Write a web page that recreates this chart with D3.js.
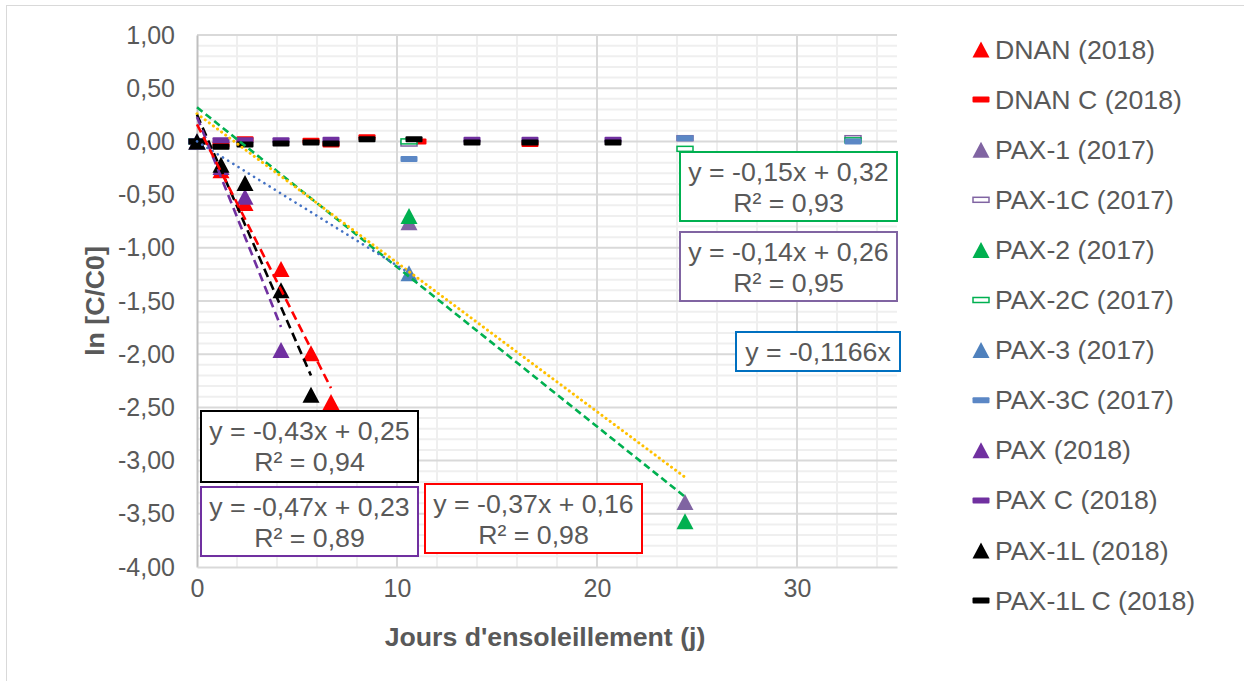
<!DOCTYPE html>
<html>
<head>
<meta charset="utf-8">
<script src="https://cdn.jsdelivr.net/npm/d3@7"></script>
<style>
  html, body { margin: 0; padding: 0; background: #ffffff; }
  svg { display: block; font-family: "Liberation Sans", Arial, sans-serif; }
</style>
</head>
<body>
<svg id="chart" width="1244" height="681"></svg>
<script>
// ---- Data: ln(C/C0) against sunshine days ----
const dnanX   = [0, 1.2, 2.4, 4.2, 5.7, 6.7];
const dnanY   = [0, -0.27, -0.58, -1.20, -1.99, -2.45];
const dnanCX  = [0, 1.2, 2.4, 5.7, 6.7, 8.5, 11.05, 16.65];
const dnanCY  = [0, -0.03, 0.02, 0.005, -0.03, 0.04, 0.0, -0.025];

const pax1X   = [0, 10.6, 24.4];
const pax1Y   = [0, -0.76, -3.39];
const pax1CX  = [0, 10.6, 24.4, 32.8];
const pax1CY  = [0, -0.02, 0.03, 0.03];

const pax2X   = [0, 10.6, 24.4];
const pax2Y   = [0, -0.70, -3.57];
const pax2CX  = [0, 10.6, 24.4, 32.8];
const pax2CY  = [0, 0.0, -0.07, 0.01];

const pax3X   = [0, 10.6];
const pax3Y   = [0, -1.24];
const pax3CX  = [0, 10.6, 24.4, 32.8];
const pax3CY  = [0, -0.165, 0.03, 0.0];

const paxX    = [0, 1.2, 2.4, 4.2];
const paxY    = [0, -0.24, -0.52, -1.96];
const paxCX   = [0, 1.2, 2.4, 4.2, 6.7, 13.75, 16.65, 20.8];
const paxCY   = [0, 0.01, 0.01, 0.01, 0.015, 0.015, 0.015, 0.015];

const pax1lX  = [0, 1.2, 2.4, 4.2, 5.7];
const pax1lY  = [0, -0.22, -0.39, -1.40, -2.38];
const pax1lCX = [0, 1.2, 2.4, 4.2, 5.7, 6.7, 8.5, 10.85, 13.75, 16.65, 20.8];
const pax1lCY = [0, -0.05, -0.03, -0.02, -0.01, -0.02, 0.02, 0.02, -0.01, -0.01, -0.01];

// Linear trendlines: slope, intercept, R², x range
const trendNames     = ["PAX-2", "PAX-1", "PAX-3", "PAX-1L", "PAX", "DNAN"];
const trendSlopes    = [-0.15, -0.14, -0.1166, -0.43, -0.47, -0.37];
const trendIntercept = [0.32, 0.26, 0, 0.25, 0.23, 0.16];
const trendR2        = [0.93, 0.95, null, 0.94, 0.89, 0.98];
const trendXEnd      = [24.5, 24.5, 10.6, 5.7, 4.2, 6.7];

// Axis ticks
const xTicks = [0, 10, 20, 30];
const yTicks = [1, 0.5, 0, -0.5, -1, -1.5, -2, -2.5, -3, -3.5, -4];

// Legend labels
const legendLabels = ["DNAN (2018)", "DNAN C (2018)", "PAX-1 (2017)", "PAX-1C (2017)",
  "PAX-2 (2017)", "PAX-2C (2017)", "PAX-3 (2017)", "PAX-3C (2017)",
  "PAX (2018)", "PAX C (2018)", "PAX-1L (2018)", "PAX-1L C (2018)"];

// ---- Series definitions (draw order) ----
const series = [
  { name: legendLabels[0],  x: dnanX,  y: dnanY,  shape: "tri",  color: "#FF0000" },
  { name: legendLabels[1],  x: dnanCX, y: dnanCY, shape: "dash", color: "#FF0000" },
  { name: legendLabels[2],  x: pax1X,  y: pax1Y,  shape: "tri",  color: "#8064A2" },
  { name: legendLabels[3],  x: pax1CX, y: pax1CY, shape: "hollow", color: "#8064A2" },
  { name: legendLabels[4],  x: pax2X,  y: pax2Y,  shape: "tri",  color: "#00B050" },
  { name: legendLabels[5],  x: pax2CX, y: pax2CY, shape: "hollow", color: "#00B050" },
  { name: legendLabels[6],  x: pax3X,  y: pax3Y,  shape: "tri",  color: "#4F81BD" },
  { name: legendLabels[7],  x: pax3CX, y: pax3CY, shape: "dash", color: "#5B87C5" },
  { name: legendLabels[8],  x: paxX,   y: paxY,   shape: "tri",  color: "#7030A0" },
  { name: legendLabels[9],  x: paxCX,  y: paxCY,  shape: "dash", color: "#7030A0" },
  { name: legendLabels[10], x: pax1lX, y: pax1lY, shape: "tri",  color: "#000000" },
  { name: legendLabels[11], x: pax1lCX,y: pax1lCY,shape: "dash", color: "#000000" }
];

const trendStyles = [
  { color: "#00B050", dash: "7,4",   width: 2.6, cap: "butt" },
  { color: "#FFC000", dash: "0.1,5", width: 3,   cap: "round" },
  { color: "#4472C4", dash: "0.1,6", width: 2.6, cap: "round" },
  { color: "#000000", dash: "9,5",   width: 2.6, cap: "butt" },
  { color: "#7030A0", dash: "9,5",   width: 2.6, cap: "butt" },
  { color: "#FF0000", dash: "9,5",   width: 2.6, cap: "butt" }
];

const labelBoxes = [
  { x: 680, y: 152, w: 217, h: 69, stroke: "#00B050" },
  { x: 680, y: 232, w: 217, h: 69, stroke: "#8064A2" },
  { x: 736, y: 332, w: 164, h: 39, stroke: "#0070C0" },
  { x: 201, y: 411, w: 217, h: 71, stroke: "#000000" },
  { x: 201, y: 487, w: 217, h: 69, stroke: "#7030A0" },
  { x: 425, y: 484, w: 217, h: 69, stroke: "#FF0000" }
];

// ---- Layout ----
const svg = d3.select("#chart");
const textColor = "#595959";
const labelSize = 26.7;
const plot = { left: 197, right: 897, top: 35, bottom: 567 };

const x = d3.scaleLinear().domain([0, 35]).range([plot.left, plot.right]);
const y = d3.scaleLinear().domain([-4, 1]).range([plot.bottom, plot.top]);

// French-style number formatting with an ASCII hyphen for negatives
const fr = d3.formatLocale({ decimal: ",", thousands: " ", grouping: [3], currency: ["", " €"], minus: "-" });

// outer chart frame
svg.append("rect")
  .attr("x", 6.5).attr("y", 5.5).attr("width", 1260).attr("height", 700)
  .attr("fill", "#ffffff").attr("stroke", "#d9d9d9").attr("stroke-width", 1);

// ---- Gridlines ----
const grid = svg.append("g");
const minorX = d3.range(0, 35.001, 2).filter(v => v % 10 !== 0);
const minorY = d3.range(-40, 11).map(v => v / 10).filter(v => Math.abs(v * 2 - Math.round(v * 2)) > 1e-6);
grid.selectAll(".mx").data(minorX).join("line")
  .attr("x1", d => x(d)).attr("x2", d => x(d))
  .attr("y1", plot.top).attr("y2", plot.bottom)
  .attr("stroke", "#efefef").attr("stroke-width", 2);
grid.selectAll(".my").data(minorY).join("line")
  .attr("x1", plot.left).attr("x2", plot.right)
  .attr("y1", d => y(d)).attr("y2", d => y(d))
  .attr("stroke", "#efefef").attr("stroke-width", 2);
grid.selectAll(".Mx").data([10, 20, 30]).join("line")
  .attr("x1", d => x(d)).attr("x2", d => x(d))
  .attr("y1", plot.top).attr("y2", plot.bottom)
  .attr("stroke", "#d9d9d9").attr("stroke-width", 2);
grid.selectAll(".My").data(yTicks.filter(v => v !== -4)).join("line")
  .attr("x1", plot.left).attr("x2", plot.right)
  .attr("y1", d => y(d)).attr("y2", d => y(d))
  .attr("stroke", "#d9d9d9").attr("stroke-width", 2);

// ---- Axes ----
const yAxis = d3.axisLeft(y).tickValues(yTicks).tickSize(0).tickPadding(22).tickFormat(fr.format(".2f"));
const gy = svg.append("g").attr("transform", `translate(${plot.left},0)`).call(yAxis);
gy.select(".domain").attr("stroke", "#bfbfbf").attr("stroke-width", 2);
gy.selectAll("text").attr("fill", textColor).attr("font-size", 25)
  .attr("font-family", "Liberation Sans, Arial, sans-serif");

const xAxis = d3.axisBottom(x).tickValues(xTicks).tickSize(0).tickPadding(12).tickFormat(fr.format("d"));
const gx = svg.append("g").attr("transform", `translate(0,${plot.bottom})`).call(xAxis);
gx.select(".domain").attr("stroke", "#d9d9d9").attr("stroke-width", 2);
gx.selectAll("text").attr("fill", textColor).attr("font-size", 25)
  .attr("font-family", "Liberation Sans, Arial, sans-serif");

svg.append("text")
  .attr("x", 545).attr("y", 646).attr("text-anchor", "middle")
  .attr("font-size", labelSize).attr("font-weight", "bold").attr("fill", textColor)
  .text("Jours d'ensoleillement (j)");
svg.append("text")
  .attr("transform", "translate(104,301) rotate(-90)").attr("text-anchor", "middle")
  .attr("font-size", labelSize).attr("font-weight", "bold").attr("fill", textColor)
  .text("ln [C/C0]");

// ---- Markers ----
const triPath = (w, h) => `M0,${-h / 2}L${w / 2},${h / 2}L${-w / 2},${h / 2}Z`;
function drawMarker(g, shape, color) {
  if (shape === "tri") {
    g.append("path").attr("d", triPath(17, 16)).attr("fill", color);
  } else if (shape === "dash") {
    g.append("rect").attr("x", -8.5).attr("y", -3).attr("width", 17).attr("height", 6)
      .attr("rx", 1).attr("fill", color);
  } else {
    g.append("rect").attr("x", -8).attr("y", -2.5).attr("width", 16).attr("height", 5)
      .attr("fill", "#ffffff").attr("stroke", color).attr("stroke-width", 1.5);
  }
}

const marks = svg.append("g");
series.forEach(s => {
  const pts = s.x.map((xv, i) => [xv, s.y[i]]);
  marks.append("g").selectAll("g").data(pts).join("g")
    .attr("transform", d => `translate(${x(d[0])},${y(d[1])})`)
    .each(function () { drawMarker(d3.select(this), s.shape, s.color); });
});

// ---- Trendlines ----
const lines = svg.append("g");
trendSlopes.forEach((m, i) => {
  const b = trendIntercept[i];
  const st = trendStyles[i];
  lines.append("line")
    .attr("x1", x(0)).attr("y1", y(b))
    .attr("x2", x(trendXEnd[i])).attr("y2", y(m * trendXEnd[i] + b))
    .attr("stroke", st.color).attr("stroke-width", st.width)
    .attr("stroke-dasharray", st.dash).attr("stroke-linecap", st.cap);
});

// ---- Trendline equation labels ----
const num = (v, d) => fr.format(`.${d}f`)(Math.abs(v));
labelBoxes.forEach((bx, i) => {
  const m = trendSlopes[i], b = trendIntercept[i], r2 = trendR2[i];
  const digits = Math.abs(m * 100 - Math.round(m * 100)) > 1e-9 ? 4 : 2;
  let eq = `y = ${m < 0 ? "-" : ""}${num(m, digits)}x`;
  if (b !== 0) eq += ` ${b < 0 ? "-" : "+"} ${num(b, 2)}`;
  const g = svg.append("g");
  g.append("rect").attr("x", bx.x).attr("y", bx.y).attr("width", bx.w).attr("height", bx.h)
    .attr("fill", "#ffffff").attr("stroke", bx.stroke).attr("stroke-width", 2);
  const cx = bx.x + bx.w / 2;
  if (r2 === null) {
    g.append("text").attr("x", cx).attr("y", bx.y + bx.h / 2 + 9).attr("text-anchor", "middle")
      .attr("font-size", labelSize).attr("fill", textColor).text(eq);
  } else {
    g.append("text").attr("x", cx).attr("y", bx.y + 29).attr("text-anchor", "middle")
      .attr("font-size", labelSize).attr("fill", textColor).text(eq);
    g.append("text").attr("x", cx).attr("y", bx.y + 60).attr("text-anchor", "middle")
      .attr("font-size", labelSize).attr("fill", textColor).text(`R² = ${num(r2, 2)}`);
  }
});

// ---- Legend ----
const legend = svg.append("g");
series.forEach((s, i) => {
  const cy = 49.5 + i * 50.1;
  const g = legend.append("g").attr("transform", `translate(981,${cy})`);
  drawMarker(g, s.shape, s.color);
  legend.append("text").attr("x", 995).attr("y", cy + 9)
    .attr("font-size", labelSize).attr("fill", textColor).text(s.name);
});
</script>
</body>
</html>
